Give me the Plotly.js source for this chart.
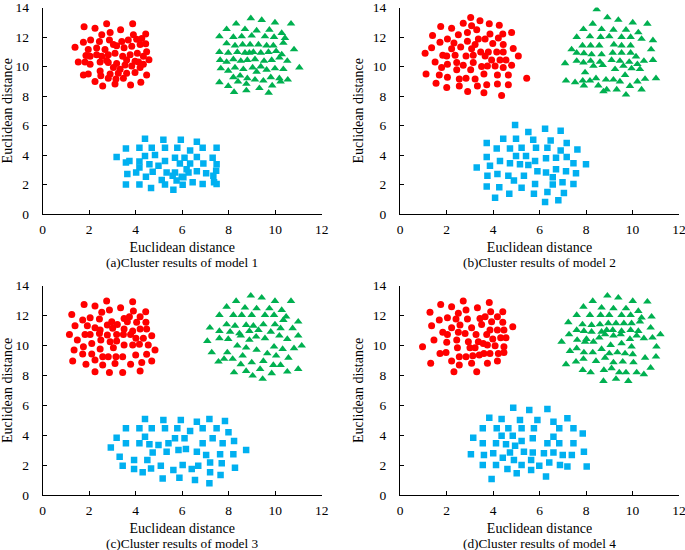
<!DOCTYPE html>
<html>
<head>
<meta charset="utf-8">
<script src="https://cdn.plot.ly/plotly-3.0.1.min.js"></script>
<style>html,body{margin:0;padding:0;background:#fff;}#chart{width:685px;height:550px;}</style>
</head>
<body>
<div id="chart"></div>
<script>
// ---------- Model 1 ----------
const m1RedX = [1.78,2.25,2.75,3.35,3.87,2.54,2.9,3.9,4.43,1.39,1.75,2.06,2.44,2.87,3.18,3.4,3.68,4.04,4.26,2.32,2.68,3.04,3.5,3.83,4.19,4.43,1.96,2.32,2.54,2.82,3.11,3.44,3.76,4.07,4.47,1.86,2.04,1.53,1.82,2.04,2.47,2.82,3.18,3.54,3.83,4.12,4.33,4.57,3.04,3.33,4.19,1.75,1.96,2.47,2.5,2.9,3.25,3.61,3.97,4.47,2.25,2.58,2.82,3.15,3.11,3.47,3.78,4.22,4.33,2.75,3.97,3.61];
const m1RedY = [12.7,12.6,12.9,12.5,12.9,12.15,12.3,12.15,12.2,11.3,11.65,11.8,11.7,11.8,11.4,11.7,11.8,11.85,11.9,11.25,11.15,11.5,11.27,11.38,11.49,11.55,11.15,10.8,10.7,10.8,10.9,10.7,10.8,10.9,11.0,10.75,10.7,10.3,10.3,10.15,10.3,10.27,10.2,10.1,10.04,10.3,10.15,10.45,9.93,9.82,9.93,9.42,9.5,9.7,9.38,9.5,9.55,9.55,9.6,9.42,8.98,8.67,9.2,9.15,8.82,9.2,8.75,8.93,10.7,10.4,10.36,10.44];
const m1GreenX = [8.95,9.42,9.99,10.68,8.32,7.91,8.7,9.2,9.75,10.28,7.6,8.2,8.56,8.99,9.56,9.95,10.42,7.91,8.27,8.6,8.92,9.28,9.63,9.92,10.35,10.81,7.6,7.98,8.37,8.7,9.06,9.38,9.71,10.04,10.28,7.63,7.91,8.2,8.52,8.8,9.13,9.52,9.85,10.18,10.52,11.04,7.66,7.98,8.27,8.63,9.03,9.38,9.63,9.99,10.35,8.2,8.49,8.8,9.13,9.49,9.81,10.18,10.54,7.6,7.98,8.4,8.76,9.32,9.87,10.23,8.23,8.76,9.72,9.2,8.89];
const m1GreenY = [13.27,13.15,12.98,12.9,12.9,12.53,12.53,12.44,12.49,12.27,12.04,12.0,12.04,12.09,12.04,12.0,11.93,11.56,11.42,11.49,11.49,11.49,11.42,11.42,11.6,11.16,10.98,10.93,10.98,10.93,10.98,10.93,10.98,11.04,10.82,10.44,10.31,10.49,10.38,10.44,10.49,10.38,10.44,10.6,10.38,9.93,9.87,9.71,9.93,9.82,9.93,10.0,9.78,9.87,9.82,9.27,9.38,9.2,9.11,9.04,9.27,9.2,9.11,8.93,8.67,8.98,8.82,8.53,8.71,8.98,8.27,8.38,8.22,9.64,10.93];
const m1BlueX = [4.4,5.19,5.94,6.63,3.58,4.16,4.69,5.26,5.79,6.34,6.88,7.48,3.18,3.73,3.58,4.16,4.4,4.83,4.59,4.98,5.26,5.69,5.9,6.1,6.34,6.63,6.91,7.31,7.48,7.46,3.64,4.02,4.16,4.44,4.73,5.33,5.59,5.69,5.98,6.19,6.27,6.63,7.03,7.34,7.37,3.58,4.16,4.66,5.12,5.26,5.62,6.02,6.45,6.88,7.48,5.76,6.05];
const m1BlueY = [5.11,5.04,5.04,4.89,4.44,4.49,4.49,4.49,4.49,4.31,4.49,4.49,3.87,3.6,3.49,3.56,3.93,4.0,3.38,3.27,3.6,3.82,3.42,3.82,3.42,3.87,3.42,3.82,3.38,2.93,2.71,2.82,3.16,2.53,2.87,2.82,2.6,2.82,2.53,3.04,2.82,2.89,2.76,2.6,2.16,2.0,2.0,1.76,2.31,2.0,1.64,1.98,2.16,2.04,2.04,2.27,2.49];

// ---------- Model 2 ----------
const m2RedX = [3.04,3.44,2.72,3.08,3.84,4.27,1.75,2.22,3.3,4.8,1.4,2.04,2.51,2.9,3.87,4.42,1.72,2.32,2.9,3.37,3.66,3.99,4.23,4.44,1.36,2.22,2.61,3.08,3.23,3.47,3.8,4.16,4.44,4.87,1.08,1.84,2.01,2.37,2.84,3.15,3.66,3.94,4.3,4.56,5.09,1.51,2.04,2.44,2.72,3.15,3.51,3.76,4.09,4.44,4.8,1.79,1.12,1.69,2.04,2.44,2.55,2.84,3.04,3.23,3.61,4.19,4.66,5.45,1.55,2.01,2.55,3.33,3.73,4.19,4.66,2.91,3.61,4.37];
const m2RedY = [13.33,13.1,12.93,12.76,12.89,12.8,12.71,12.6,12.49,12.31,12.11,11.87,12.16,12.31,12.2,12.2,11.64,11.6,11.71,11.87,11.87,11.56,11.93,11.49,11.27,11.2,11.33,11.2,11.49,10.98,10.98,10.98,10.98,11.22,10.89,10.76,10.71,10.76,10.71,10.76,10.71,10.44,10.44,10.44,10.71,10.31,10.16,10.27,10.09,10.27,10.0,10.04,10.04,9.93,10.09,9.93,9.49,9.42,9.27,9.78,9.16,9.2,9.78,9.16,9.49,9.42,9.42,9.2,8.87,8.58,8.67,8.67,8.76,8.82,8.76,8.31,8.22,8.04];
const m2GreenX = [8.46,8.92,9.39,10.01,10.64,8.29,7.89,8.67,9.18,9.72,10.25,7.6,8.17,8.63,9.0,9.53,9.92,10.39,10.88,7.38,7.85,8.2,8.57,9.2,9.53,9.92,10.8,7.6,7.91,8.24,8.67,9.15,9.53,9.92,10.15,7.1,7.6,7.89,8.2,8.6,9.1,9.46,9.86,10.21,10.49,10.88,8.32,8.72,9.25,9.61,9.96,10.32,7.96,7.14,7.53,7.86,8.17,8.43,8.86,9.18,9.46,9.68,10.21,10.54,11.01,7.91,8.53,8.89,9.32,9.89,10.39,8.75,9.72];
const m2GreenY = [13.87,13.33,13.16,12.98,12.89,12.89,12.53,12.53,12.49,12.49,12.31,12.0,12.04,12.0,12.04,12.0,12.0,11.87,11.78,11.16,11.42,11.42,11.42,11.49,11.42,11.42,11.16,10.93,10.89,10.82,10.82,10.93,10.93,10.93,10.67,10.22,10.38,10.27,10.38,10.31,10.44,10.38,10.31,10.16,10.38,10.44,10.04,10.09,9.82,10.04,9.87,9.82,9.6,9.04,8.93,9.04,9.04,9.2,9.11,9.11,8.98,9.42,8.98,9.16,9.2,8.71,8.71,8.44,8.44,8.67,8.44,8.31,8.09];
const m2BlueX = [4.95,5.52,6.24,6.91,4.44,4.99,5.73,6.48,7.17,3.73,4.16,4.73,5.23,5.85,6.34,6.91,7.63,3.73,4.99,5.42,6.28,6.71,7.17,3.3,3.87,4.3,4.73,5.16,5.52,5.81,7.46,8.0,3.76,4.19,4.66,5.33,5.91,6.28,6.71,7.14,7.57,6.57,3.73,4.27,4.9,5.23,5.81,6.57,6.99,7.46,4.7,5.76,6.34,7.05,4.09,6.24,6.81];
const m2BlueY = [6.04,5.56,5.78,5.64,5.11,5.11,5.04,4.98,4.82,4.82,4.44,4.44,4.49,4.49,4.49,4.31,4.38,3.87,3.93,3.93,3.78,3.82,3.87,3.16,3.27,3.6,3.44,3.38,3.33,3.6,3.44,3.38,2.6,2.71,2.6,2.6,2.89,2.82,3.04,2.89,2.76,2.49,1.87,1.82,2.27,1.78,2.04,2.0,2.16,2.04,1.38,1.38,1.49,1.42,1.11,0.82,0.93];

// ---------- Model 3 ----------
const m3RedX = [2.75,3.87,1.78,2.25,3.35,2.87,3.9,4.43,2.54,1.25,2.04,1.72,2.44,2.97,3.5,3.73,4.19,3.21,3.64,4.04,4.44,1.39,1.92,2.25,2.78,2.47,3.01,3.5,3.87,4.19,4.47,1.15,1.82,2.04,2.44,2.78,3.18,3.47,3.78,4.69,1.49,2.11,2.5,2.9,3.18,4.01,4.33,3.5,3.87,4.16,4.54,1.75,1.35,2.47,3.04,4.83,1.72,2.11,2.58,2.82,3.15,3.44,4.0,4.47,1.29,2.25,3.11,4.69,1.86,2.58,3.78,4.26,2.25,2.87,3.44,4.19];
const m3RedY = [12.97,12.93,12.75,12.64,12.53,12.37,12.3,12.26,12.22,12.08,11.86,11.7,11.77,11.59,11.81,11.93,11.93,11.41,11.59,11.55,11.55,11.32,11.32,11.19,11.37,11.03,11.15,11.1,10.97,11.1,11.1,10.74,10.74,10.74,10.81,10.7,10.74,10.74,10.74,10.66,10.37,10.14,10.37,10.25,10.3,10.48,10.48,10.03,10.03,10.08,10.03,9.92,9.7,9.76,9.85,9.7,9.43,9.43,9.25,9.25,9.25,9.25,9.36,9.41,8.96,9.03,8.8,8.96,8.74,8.69,8.74,8.87,8.25,8.2,8.2,8.29];
const m3GreenX = [8.95,9.42,9.99,10.68,8.32,7.91,8.7,9.2,9.75,10.28,10.47,7.6,8.2,8.56,8.99,9.56,9.95,10.35,10.99,7.19,7.91,8.27,8.75,9.06,9.49,9.99,10.23,7.6,8.06,8.46,8.89,9.28,9.81,10.75,7.6,7.98,8.52,9.18,9.56,10.18,10.52,10.99,7.08,8.37,8.75,9.2,9.95,10.32,10.81,11.14,7.27,7.94,8.6,9.66,10.04,10.57,7.56,7.8,8.17,8.52,8.99,9.49,9.92,10.23,8.23,8.75,9.35,9.85,10.52,10.99,9.03,9.46,8.89];
const m3GreenY = [13.33,13.2,12.97,12.97,12.97,12.59,12.53,12.48,12.48,12.37,11.93,12.04,12.04,12.04,12.04,12.04,12.04,11.7,11.59,11.19,11.41,11.32,11.37,11.32,11.41,11.41,11.15,10.97,10.92,10.81,10.97,11.03,10.92,11.15,10.48,10.43,10.66,10.59,10.48,10.66,10.43,10.66,10.3,9.99,9.85,9.7,9.92,9.76,9.81,9.99,9.54,9.54,9.32,9.47,9.32,9.18,8.92,9.1,9.1,8.74,8.87,8.96,8.69,8.69,8.2,8.29,8.42,8.14,8.25,8.42,7.98,7.76,10.37];
const m3BlueX = [4.4,5.19,5.94,7.17,7.84,6.63,3.58,4.16,4.69,5.26,5.79,6.34,6.88,7.48,7.99,3.18,4.4,5.69,6.1,7.31,3.58,4.16,4.59,4.98,5.41,6.88,7.74,8.23,2.93,4.73,5.33,5.84,6.16,6.63,7.03,7.63,8.2,8.75,3.31,3.93,4.5,3.44,3.93,4.3,4.66,5.08,5.62,6.02,6.41,6.69,7.2,7.7,8.27,5.16,5.88,6.55,7.2,7.65,7.17];
const m3BlueY = [5.08,5.02,5.02,5.08,4.95,4.9,4.46,4.46,4.46,4.46,4.46,4.28,4.46,4.46,4.19,3.83,3.9,3.79,3.79,3.79,3.46,3.46,3.39,3.34,3.46,3.46,3.46,3.61,3.17,2.85,2.9,3.01,3.08,2.9,2.67,2.72,2.72,3.01,2.56,2.34,2.34,1.96,1.74,1.52,1.78,1.96,1.67,2.01,1.74,1.96,2.18,2.12,1.83,1.11,1.16,1.0,1.52,1.34,0.78];

// ---------- Model 4 ----------
const m4RedX = [2.72,3.84,1.75,2.22,3.33,2.84,2.51,1.29,3.9,4.42,4.19,2.04,1.69,2.41,2.9,3.44,3.66,3.94,4.42,1.36,2.22,2.58,3.08,3.51,3.87,4.19,4.47,4.85,1.84,2.04,2.51,2.8,3.27,3.73,3.99,4.33,4.56,1.46,2.01,2.44,2.94,3.37,3.76,4.09,4.47,0.97,2.47,3.01,3.23,1.72,1.98,2.55,2.84,3.13,3.41,3.61,3.87,4.23,4.47,2.22,1.32,2.55,3.08,3.76,4.19,2.32,3.3,3.58];
const m4RedY = [12.97,12.88,12.75,12.59,12.53,12.37,12.15,12.22,12.26,12.26,11.93,11.86,11.7,11.77,11.77,11.81,11.93,11.59,11.55,11.32,11.19,11.37,11.19,11.41,11.03,11.03,11.03,11.26,10.88,10.74,10.88,10.81,10.74,10.74,10.43,10.52,10.52,10.37,10.21,10.37,10.25,10.25,10.03,9.99,9.92,9.92,9.85,9.85,9.85,9.47,9.54,9.25,9.25,9.32,9.36,9.47,9.47,9.47,9.54,8.96,8.81,8.69,8.81,8.81,8.96,8.25,8.25,10.14];
const m4GreenX = [8.92,9.39,10.01,10.64,8.29,7.89,8.67,9.18,9.72,10.25,7.6,8.17,8.63,9.0,9.53,9.92,10.39,10.82,7.24,7.85,8.24,8.6,8.96,9.29,9.63,9.96,10.32,7.6,7.91,8.24,8.67,8.89,9.15,9.53,9.92,10.25,10.78,7.27,8.02,8.57,8.82,9.18,9.49,9.89,10.18,10.49,10.86,11.2,6.95,7.62,7.96,8.32,9.06,9.53,9.96,11.03,7.31,7.6,7.91,8.29,8.67,9.0,9.35,9.68,10.01,10.54,11.01,7.14,7.57,7.89,8.43,8.82,9.18,9.58,10.04,10.78,7.86,8.2,8.77,9.43,9.72,10.18,10.49,8.75,9.29,9.82,9.1];
const m4GreenY = [13.33,13.2,12.97,12.93,12.97,12.59,12.53,12.48,12.48,12.3,12.04,12.04,12.04,12.04,12.04,12.04,11.86,11.93,11.55,11.41,11.37,11.41,11.48,11.48,11.48,11.48,11.59,11.03,10.97,10.92,10.92,11.03,11.03,10.97,11.03,10.97,11.19,10.74,10.43,10.52,10.74,10.66,10.74,10.43,10.66,10.48,10.52,10.74,10.25,10.37,10.25,10.25,10.03,10.14,9.92,9.92,9.63,9.81,9.54,9.54,9.76,9.47,9.54,9.47,9.41,9.18,9.25,8.74,8.92,9.1,8.96,9.18,8.87,8.92,8.87,8.51,8.36,8.2,8.36,8.2,8.2,8.2,8.07,7.62,7.76,7.62,8.47];
const m4BlueX = [4.87,5.56,6.34,3.84,4.37,5.16,5.91,6.6,7.2,3.56,4.16,4.66,5.23,5.76,6.85,7.46,3.15,4.37,4.85,6.6,7.86,3.56,4.13,4.56,4.95,5.23,5.71,6.34,6.85,7.46,3.05,3.61,4.01,4.73,5.33,5.71,6.19,6.6,7.0,7.39,7.91,4.42,4.9,5.64,6.42,3.56,4.13,4.62,5.23,5.99,6.88,7.2,8.03,5.02,5.64,6.28,3.94];
const m4BlueY = [5.84,5.68,5.75,5.17,5.08,5.02,5.02,4.9,5.13,4.46,4.46,4.46,4.46,4.46,4.46,4.46,3.83,3.97,3.97,3.9,4.12,3.46,3.46,3.39,3.3,3.61,3.79,3.46,3.46,3.46,2.72,2.67,2.79,2.85,2.9,2.85,2.79,2.85,2.67,2.67,2.9,2.5,2.34,2.34,2.18,2.01,2.01,1.74,2.01,1.96,2.01,1.9,1.9,1.45,1.67,1.23,1.07];

const captions = ['(a)Cluster results of model 1','(b)Cluster results of model 2','(c)Cluster results of model 3','(d)Cluster results of model 4'];
const axisTitle = 'Euclidean distance';
const xTicks = [0,2,4,6,8,10,12];
const yTicks = [0,2,4,6,8,10,12,14];

const panels = [
  {red:[m1RedX,m1RedY], green:[m1GreenX,m1GreenY], blue:[m1BlueX,m1BlueY]},
  {red:[m2RedX,m2RedY], green:[m2GreenX,m2GreenY], blue:[m2BlueX,m2BlueY]},
  {red:[m3RedX,m3RedY], green:[m3GreenX,m3GreenY], blue:[m3BlueX,m3BlueY]},
  {red:[m4RedX,m4RedY], green:[m4GreenX,m4GreenY], blue:[m4BlueX,m4BlueY]}
];

const W = 685, H = 550;
const FONT = 'Liberation Serif, Times New Roman, serif';
// plot boxes in pixels: [left, right, top, bottom]
const boxes = [
  [42.7, 321.7, 7.5, 214],
  [400, 679, 7.5, 214],
  [42.7, 321.7, 285.7, 495],
  [400, 679, 285.7, 495]
];

const traces = [];
const layout = {
  width: W, height: H,
  margin: {l:0, r:0, t:0, b:0},
  paper_bgcolor: '#fff', plot_bgcolor: '#fff',
  showlegend: false,
  font: {family: FONT, size: 13, color: '#000'},
  annotations: []
};

panels.forEach((p, i) => {
  const n = i === 0 ? '' : String(i + 1);
  const xa = 'x' + n, ya = 'y' + n;
  const common = {type:'scatter', mode:'markers', xaxis:xa, yaxis:ya, hoverinfo:'x+y'};
  traces.push(Object.assign({}, common, {x:p.red[0], y:p.red[1], marker:{symbol:'circle', size:7, color:'#FF0000'}}));
  traces.push(Object.assign({}, common, {x:p.green[0], y:p.green[1], marker:{symbol:'triangle-up', size:7.5, color:'#00B050'}}));
  traces.push(Object.assign({}, common, {x:p.blue[0], y:p.blue[1], marker:{symbol:'square', size:6.5, color:'#00B0F0'}}));

  const b = boxes[i];
  const axCommon = {
    showline: true, linecolor: '#000', linewidth: 1,
    ticks: 'inside', ticklen: 4, tickcolor: '#000', tickwidth: 1,
    showgrid: false, zeroline: false, automargin: false,
    ticklabeloverflow: 'allow',
    tickfont: {family: FONT, size: 13.5, color: '#000'},
    fixedrange: true
  };
  layout['xaxis' + n] = Object.assign({}, axCommon, {
    domain: [b[0] / W, b[1] / W],
    range: [0, 12], tickvals: xTicks, ticktext: xTicks.map(String),
    anchor: ya,
    ticklabelstandoff: 3,
    title: {text: axisTitle, font: {family: FONT, size: 14, color: '#000'}, standoff: 5}
  });
  layout['yaxis' + n] = Object.assign({}, axCommon, {
    domain: [1 - b[3] / H, 1 - b[2] / H],
    range: [0, 14], tickvals: yTicks, ticktext: yTicks.map(String),
    anchor: xa,
    ticklabelstandoff: 10,
    title: {text: axisTitle, font: {family: FONT, size: 14, color: '#000'}, standoff: 5}
  });
  layout.annotations.push({
    text: captions[i], xref: 'paper', yref: 'paper',
    x: (b[0] + b[1]) / 2 / W, y: 1 - (b[3] + 48.5) / H,
    xanchor: 'center', yanchor: 'middle', showarrow: false,
    font: {family: FONT, size: 13.3, color: '#000'}
  });
});

Plotly.newPlot('chart', traces, layout, {staticPlot: true, displayModeBar: false});
</script>
</body>
</html>
